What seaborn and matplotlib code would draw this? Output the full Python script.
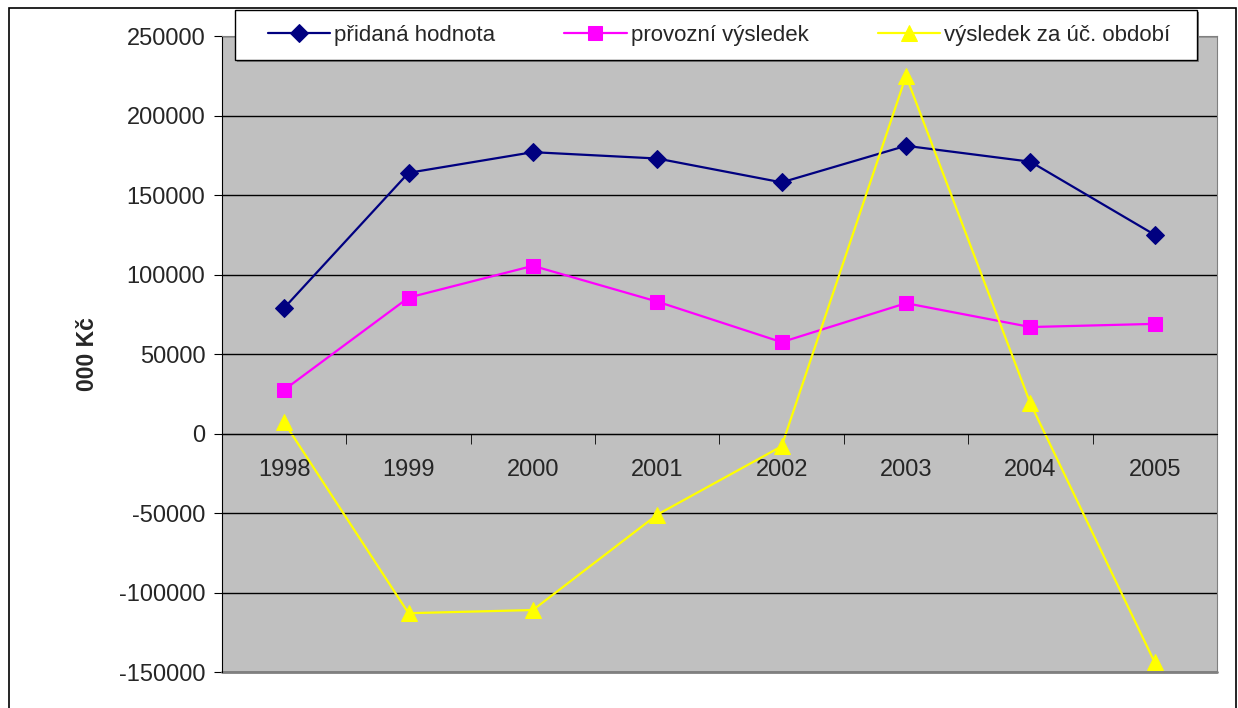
import matplotlib
matplotlib.use("Agg")
import matplotlib.pyplot as plt
import matplotlib.patches as mpatches
import seaborn as sns
import numpy as np

# Data (values in thousands of CZK)
years = ["1998", "1999", "2000", "2001", "2002", "2003", "2004", "2005"]
pridana_hodnota = [79000, 164000, 177000, 173000, 158000, 181000, 171000, 125000]
provozni_vysledek = [27500, 85500, 105500, 83000, 57500, 82000, 67000, 69000]
vysledek_obdobi = [7000, -113000, -111000, -51000, -8000, 225000, 19000, -144000]

sns.set_style("white")
plt.rcParams["font.family"] = ["Liberation Sans", "DejaVu Sans"]
plt.rcParams["axes.unicode_minus"] = False

fig = plt.figure(figsize=(12.38, 7.08), dpi=100)
ax = fig.add_axes([0.1793, 0.0508, 0.8037, 0.8982])
ax.set_facecolor("#C0C0C0")

x = np.arange(len(years))
series = [
    ("přidaná hodnota", pridana_hodnota, "#000080", "D", 9),
    ("provozní výsledek", provozni_vysledek, "#FF00FF", "s", 10),
    ("výsledek za úč. období", vysledek_obdobi, "#FFFF00", "^", 11),
]
for name, vals, col, mk, ms in series:
    sns.lineplot(x=x, y=vals, ax=ax, color=col, marker=mk, markersize=ms,
                 markeredgecolor=col, linewidth=1.6, label=name)

ax.set_xlim(-0.5, len(years) - 0.5)
ax.set_ylim(-150000, 250000)
ax.set_yticks(np.arange(-150000, 250001, 50000))
ax.yaxis.grid(True, color="black", linewidth=1)
ax.xaxis.grid(False)
ax.set_axisbelow(True)

# category axis crosses at zero
ax.spines["bottom"].set_position(("data", 0))
ax.spines["bottom"].set_color("black")
ax.spines["left"].set_color("black")
ax.spines["top"].set_color("#808080")
ax.spines["right"].set_color("#808080")
ax.plot([0, 1], [0, 0], transform=ax.transAxes, color="#808080", lw=2, clip_on=False)

ax.set_xticks(x)
ax.set_xticklabels(years, fontsize=17)
ax.set_xticks(np.arange(-0.5, len(years)), minor=True)
ax.tick_params(axis="x", which="major", length=0, pad=18)
ax.tick_params(axis="x", which="minor", length=7, direction="out", color="black", bottom=True)
ax.tick_params(axis="y", length=6, direction="out", color="black", left=True, labelsize=17, pad=6)
ax.set_xlabel("")
ax.set_ylabel("000 Kč", fontsize=16.5, fontweight="bold", labelpad=14)

# legend box (drawn as its own frame, like the spreadsheet legend)
handles, labels = ax.get_legend_handles_labels()
ax.get_legend().remove()
box_x, box_y, box_w, box_h = 235 / 1238, 1 - 60 / 708, 962 / 1238, 50 / 708
fig.patches.append(mpatches.Rectangle((box_x + 2 / 1238, box_y - 2 / 708), box_w, box_h,
                                      transform=fig.transFigure, facecolor="#808080",
                                      edgecolor="none", zorder=2))
fig.patches.append(mpatches.Rectangle((box_x, box_y), box_w, box_h, transform=fig.transFigure,
                                      facecolor="white", edgecolor="black", linewidth=1,
                                      zorder=3))
fig.legend(handles, labels, ncol=3, loc="center",
           bbox_to_anchor=(719 / 1238, 1 - 35 / 708), bbox_transform=fig.transFigure,
           fontsize=16, frameon=False, handlelength=2.8, handletextpad=0.2,
           columnspacing=3.1)

fig.patches.append(mpatches.Rectangle((0.007, -0.01), 0.991, 0.998, transform=fig.transFigure,
                                      fill=False, edgecolor="black", linewidth=1.2))

fig.savefig("out.png", dpi=100)
